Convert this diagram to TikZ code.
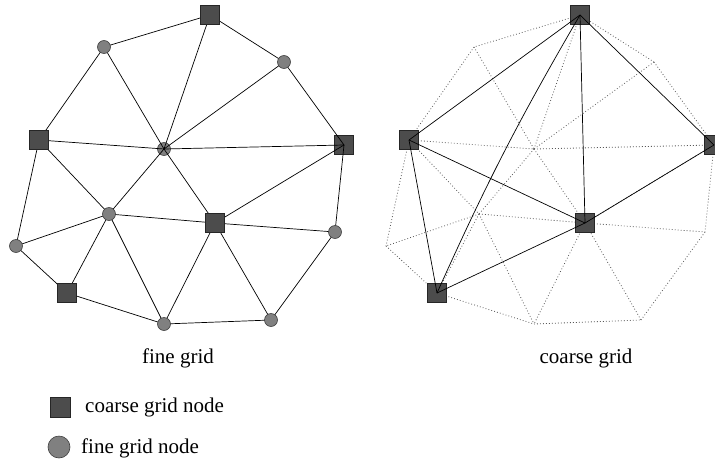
\documentclass[tikz,border=0pt]{standalone}
\usepackage{fontspec}
\setmainfont{Liberation Serif}
\begin{document}
\begin{tikzpicture}[x=1pt,y=-1pt,
  sq/.style={draw=black!85, fill=black!70, minimum size=19pt, inner sep=0pt, line width=0.6pt},
  cir/.style={circle, draw=black!75, fill=black!50, minimum size=13pt, inner sep=0pt, line width=0.6pt},
  edge/.style={black, line width=0.7pt},
  fineedge/.style={black!65, line width=0.8pt, dash pattern=on 0.8pt off 2.2pt},
  lbl/.style={font=\fontsize{21}{25}\selectfont, inner sep=0pt}
]
\clip (0,0) rectangle (715,458);
% ---------- positions (left: fine grid) ----------
\coordinate (S1) at (210,15);
\coordinate (S2) at (39,140);
\coordinate (S3) at (344,145);
\coordinate (S4) at (215,223);
\coordinate (S5) at (67,293);
\coordinate (C1) at (104,47);
\coordinate (C2) at (284,62);
\coordinate (C3) at (164,149);
\coordinate (C4) at (109,214);
\coordinate (C5) at (16,246);
\coordinate (C6) at (335,232);
\coordinate (C7) at (164,324);
\coordinate (C8) at (271,320);
% ---------- positions (right: coarse grid) ----------
\foreach \p in {S1,S2,S3,S4,S5,C1,C2,C3,C4,C5,C6,C7,C8}
  \coordinate (r\p) at ([xshift=370pt]\p);
\def\fineedges{S1/C1,S1/C2,S1/C3,C1/S2,C1/C3,C2/C3,C2/S3,S2/C3,S2/C4,S2/C5,C3/S3,C3/C4,C3/S4,S3/S4,S3/C6,C4/S4,C4/C5,C4/S5,C4/C7,S4/C6,S4/C7,S4/C8,C5/S5,S5/C7,C7/C8,C8/C6}
% ---------- left graph ----------
\node[cir] (nC3) at (C3) {};
\node[sq] (nS3) at (S3) {};
\foreach \a/\b in \fineedges
  \draw[edge] (\a) -- (\b);
\foreach \p in {C1,C2,C4,C5,C6,C7,C8}
  \node[cir] (n\p) at (\p) {};
\foreach \p in {S1,S2,S4,S5}
  \node[sq] (n\p) at (\p) {};
% ---------- right graph ----------
\foreach \a/\b in \fineedges
  \draw[fineedge] (r\a) -- (r\b);
\foreach \p in {S1,S2,S3,S4,S5}
  \node[sq] (nr\p) at (r\p) {};
\draw[edge] (nrS1.center) -- (nrS2.center);
\draw[edge] (nrS1.center) -- (nrS4.center);
\draw[edge] (nrS1.center) -- (nrS3.center);
\draw[edge] (nrS5.center) to[bend left=3] (nrS1.center);
\draw[edge] (nrS2.center) -- (nrS5.center);
\draw[edge] (nrS2.center) -- (nrS4.center);
\draw[edge] (nrS3.center) -- (nrS4.center);
\draw[edge] (nrS4.center) -- (nrS5.center);
% ---------- labels ----------
\node[lbl, anchor=base] (finelbl) at (178,363) {fine grid};
\node[lbl, anchor=base] (coarselbl) at (586,363) {coarse grid};
% ---------- legend ----------
\node[sq, minimum size=20pt] (legsq) at (60,407) {};
\node[lbl, anchor=base west] (legsqtxt) at (85,412) {coarse grid node};
\node[cir, minimum size=22pt] (legcir) at (59,447) {};
\node[lbl, anchor=base west] (legcirtxt) at (81,453) {fine grid node};
\end{tikzpicture}
\end{document}
